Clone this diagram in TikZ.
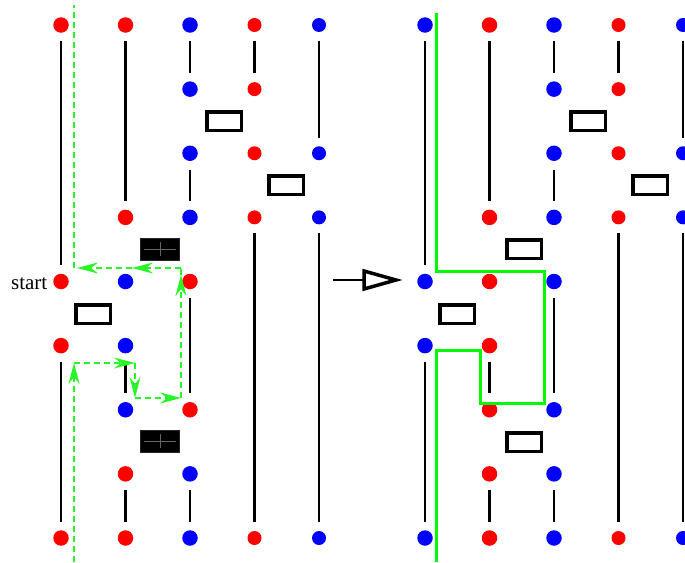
\documentclass[tikz,border=0pt]{standalone}
\usepackage{fontspec}
\setmainfont{Liberation Serif}
\usetikzlibrary{arrows.meta}
\definecolor{dotred}{RGB}{255,0,0}
\definecolor{dotblue}{RGB}{0,0,255}
\definecolor{pathgreen}{RGB}{0,250,0}
\definecolor{dashgreen}{RGB}{40,245,40}
\tikzset{
  dot/.style={circle, inner sep=0pt, draw=none},
  wire/.style={line width=2.5pt, shorten <=8.5pt, shorten >=8.5pt},
  gate/.style={draw=black, line width=3.5pt, fill=white, inner sep=0pt, minimum width=34.5pt, minimum height=18.5pt},
  blackgate/.style={draw=black!85, line width=0.8pt, fill=black, inner sep=0pt, minimum width=39pt, minimum height=22pt},
  crossline/.style={draw=black!60, line width=0.6pt},
  dpath/.style={dashgreen, line width=1.3pt, dash pattern=on 6pt off 4pt},
  dtip/.style={-{Stealth[length=21pt, width=11pt, inset=7pt]}},
  spath/.style={pathgreen, line width=3pt, line join=miter},
}
\begin{document}
\begin{tikzpicture}[x=1pt, y=-1pt]
\useasboundingbox (0,0) rectangle (685,562);
% left panel dots
\foreach \c/\r/\col in {0/0/dotred,1/0/dotred,2/0/dotblue,3/0/dotred,4/0/dotblue,
  2/1/dotblue,3/1/dotred,
  2/2/dotblue,3/2/dotred,4/2/dotblue,
  1/3/dotred,2/3/dotblue,3/3/dotred,4/3/dotblue,
  0/4/dotred,1/4/dotblue,2/4/dotred,
  0/5/dotred,1/5/dotblue,
  1/6/dotblue,2/6/dotred,
  1/7/dotred,2/7/dotblue,
  0/8/dotred,1/8/dotred,2/8/dotblue,3/8/dotred,4/8/dotblue}
  {\node[dot, fill=\col, minimum size={(\c<3)?15.5:14}] (L\c-\r) at ({61+64.5*\c},{25+64.125*\r}) {};}
% right panel dots
\foreach \c/\r/\col in {0/0/dotblue,1/0/dotred,2/0/dotblue,3/0/dotred,4/0/dotblue,
  2/1/dotblue,3/1/dotred,
  2/2/dotblue,3/2/dotred,4/2/dotblue,
  1/3/dotred,2/3/dotblue,3/3/dotred,4/3/dotblue,
  0/4/dotblue,1/4/dotred,2/4/dotblue,
  0/5/dotblue,1/5/dotred,
  1/6/dotred,2/6/dotblue,
  1/7/dotred,2/7/dotblue,
  0/8/dotblue,1/8/dotred,2/8/dotblue,3/8/dotred,4/8/dotblue}
  {\node[dot, fill=\col, minimum size={(\c<3)?15.5:14}] (R\c-\r) at ({425+64.5*\c},{25+64.125*\r}) {};}
% vertical wires
\foreach \c/\a/\b in {0/0/4,0/5/8,1/0/3,1/5/6,1/7/8,2/0/1,2/2/3,2/4/6,2/7/8,3/0/1,3/3/8,4/0/2,4/3/8}
  {\draw[wire] (L\c-\a) -- (L\c-\b);
   \draw[wire] (R\c-\a) -- (R\c-\b);}
% left gates
\node[gate] (Lg1) at (224,121) {};
\node[gate] (Lg2) at (286,185) {};
\node[blackgate] (Lb1) at (160,249) {};
\node[gate] (Lg3) at (93,314) {};
\node[blackgate] (Lb2) at (160,441) {};
\foreach \b in {Lb1,Lb2}
  {\draw[crossline] ([xshift=4pt]\b.west) -- ([xshift=-4pt]\b.east);
   \draw[crossline] ([yshift=-4pt]\b.north) -- ([yshift=4pt]\b.south);}
% right gates
\node[gate] (Rg1) at (588,121) {};
\node[gate] (Rg2) at (650,185) {};
\node[gate] (Rg3) at (524,249) {};
\node[gate] (Rg4) at (457,314) {};
\node[gate] (Rg5) at (524,442) {};
% start label
\node[anchor=base east, inner sep=0pt, font=\fontsize{21}{25}\selectfont] (start) at (47.5,289) {start};
% dashed green path (left)
\coordinate (gs) at (74,562);
\coordinate (g1) at (74,363);
\coordinate (g2) at (135,363);
\coordinate (g3) at (135,398);
\coordinate (g4) at (181,398);
\coordinate (g4a) at (181,275);
\coordinate (g5) at (181,268);
\coordinate (g6) at (132,268);
\coordinate (g7) at (74,268);
\coordinate (ge) at (74,5);
\draw[dpath, dtip] (gs) -- (g1);
\draw[dpath, dtip] (g1) -- (g2);
\draw[dpath, dtip] (g2) -- (g3);
\draw[dpath, dtip] (g3) -- (g4);
\draw[dpath, dtip] (g4) -- (g4a);
\draw[dpath] (g4a) -- (g5);
\draw[dpath, dtip] (g5) -- (g6);
\draw[dpath, dtip] (g6) -- ([xshift=3pt]g7);
\draw[dpath] (g7) -- (ge);
% solid green path (right)
\coordinate (h0) at (436,13);
\coordinate (h1) at (436,271);
\coordinate (h2) at (544,271);
\coordinate (h3) at (544,403);
\coordinate (h4) at (480,403);
\coordinate (h5) at (480,350);
\coordinate (h6) at (436,350);
\coordinate (h7) at (436,562);
\draw[spath] (h0) -- (h1) -- (h2) -- (h3) -- (h4) -- (h5) -- (h6) -- (h7);
% big arrow
\coordinate (a0) at (333,280);
\coordinate (a1) at (364,280);
\coordinate (at1) at (364,271);
\coordinate (at2) at (396,280);
\coordinate (at3) at (364,289);
\draw[line width=1.5pt] (a0) -- (a1);
\draw[line width=3.5pt, fill=white, line join=miter] (at1) -- (at2) -- (at3) -- cycle;
\end{tikzpicture}
\end{document}
